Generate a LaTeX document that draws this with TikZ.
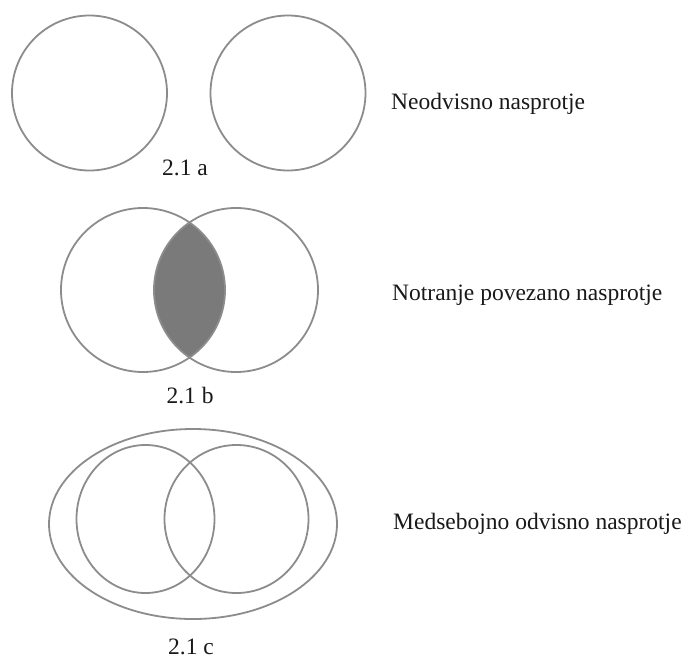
\documentclass[tikz,border=0pt]{standalone}
\usepackage{fontspec}
\setmainfont{Liberation Serif}
\begin{document}
\begin{tikzpicture}[x=1pt,y=-1pt,
  ring/.style={draw=black!45, line width=1.8pt},
  lbl/.style={font=\fontsize{23.5}{28}\selectfont, text=black!90, inner sep=0pt},
  figcap/.style={lbl, anchor=base},
  desc/.style={lbl, anchor=base west}]
\useasboundingbox (0,0) rectangle (691,659);
% 2.1 a
\draw[ring] (89.5,93) circle[radius=77.5];
\draw[ring] (288,93) circle[radius=77.5];
\node[figcap] (capa) at (185,175) {2.1 a};
\node[desc] (desca) at (391,109) {Neodvisno nasprotje};
% 2.1 b
\begin{scope}
  \clip (143,290) circle[radius=82];
  \fill[black!52] (236,290) circle[radius=82];
\end{scope}
\draw[ring] (143,290) circle[radius=82];
\draw[ring] (236,290) circle[radius=82];
\node[figcap] (capb) at (190,403) {2.1 b};
\node[desc] (descb) at (392,300) {Notranje povezano nasprotje};
% 2.1 c
\draw[ring] (193,524) ellipse[x radius=144, y radius=95];
\draw[ring] (145.5,519) ellipse[x radius=69, y radius=74];
\draw[ring] (236.5,519) ellipse[x radius=72, y radius=74];
\node[figcap] (capc) at (191,654) {2.1 c};
\node[desc] (descc) at (393,529) {Medsebojno odvisno nasprotje};
\end{tikzpicture}
\end{document}
